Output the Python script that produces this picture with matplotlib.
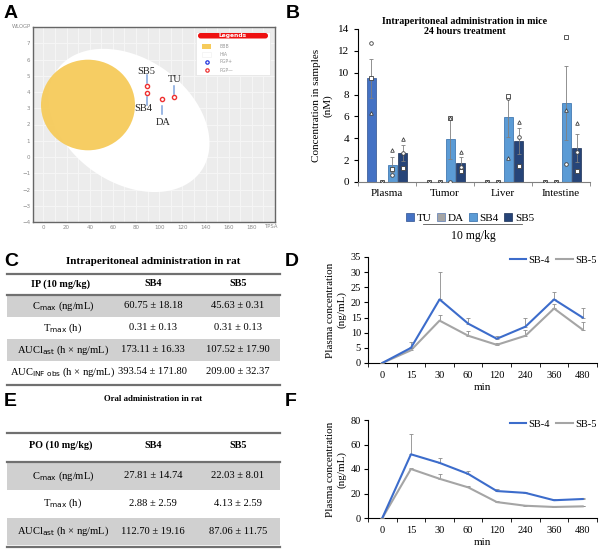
import matplotlib
matplotlib.use('Agg')
import matplotlib.pyplot as plt
import numpy as np
from matplotlib.patches import Ellipse, Polygon, Rectangle, FancyBboxPatch
from matplotlib.lines import Line2D

plt.rcParams['font.family'] = 'Liberation Serif'

# ---- panel A: boiled egg (TPSA vs WLOGP)
egg_names = ['SB5', 'SB4', 'DA', 'TU']
egg_tpsa = [89.6, 89.6, 102.3, 113.0]
egg_wlogp = [4.35, 3.95, 3.55, 3.72]

# ---- panel B: tissue concentrations (nM), 24 h after 10 mg/kg ip
tissues = ['Plasma', 'Tumor', 'Liver', 'Intestine']
compounds = ['TU', 'DA', 'SB4', 'SB5']
conc_mean = {
    'TU':  [9.5, 0, 0, 0],
    'DA':  [0, 0, 0, 0],
    'SB4': [1.6, 3.95, 5.95, 7.2],
    'SB5': [2.65, 1.75, 3.75, 3.1],
}
conc_sd = {
    'TU':  [1.8, 0, 0, 0],
    'DA':  [0, 0, 0, 0],
    'SB4': [0.7, 1.85, 1.85, 3.4],
    'SB5': [0.75, 0.5, 1.2, 1.25],
}
# individual animals (circle, square, triangle)
conc_pts = {
    'TU':  [[12.7, 9.5, 6.3], [0, 0, 0], [0, 0, 0], [0, 0, 0]],
    'DA':  [[0, 0, 0], [0, 0, 0], [0, 0, 0], [0, 0, 0]],
    'SB4': [[0.65, 1.2, 2.9], [0, 5.9, 5.9], [7.7, 7.9, 2.2], [1.65, 13.3, 6.6]],
    'SB5': [[2.65, 1.3, 3.95], [1.4, 1.0, 2.7], [4.15, 1.5, 5.5], [2.75, 1.0, 5.4]],
}

# ---- tables C and E
ip_rows = ['C$_{\\mathrm{max}}$ (ng/mL)', 'T$_{\\mathrm{max}}$ (h)',
           'AUCl$_{\\mathrm{ast}}$ (h × ng/mL)', 'AUC$_{\\mathrm{INF\\ obs}}$ (h × ng/mL)']
ip_sb4 = ['60.75 ± 18.18', '0.31 ± 0.13', '173.11 ± 16.33', '393.54 ± 171.80']
ip_sb5 = ['45.63 ± 0.31', '0.31 ± 0.13', '107.52 ± 17.90', '209.00 ± 32.37']
po_rows = ['C$_{\\mathrm{max}}$ (ng/mL)', 'T$_{\\mathrm{max}}$ (h)',
           'AUCl$_{\\mathrm{ast}}$ (h × ng/mL)']
po_sb4 = ['27.81 ± 14.74', '2.88 ± 2.59', '112.70 ± 19.16']
po_sb5 = ['22.03 ± 8.01', '4.13 ± 2.59', '87.06 ± 11.75']

# ---- panels D and F: plasma PK curves
times = ['0', '15', '30', '60', '120', '240', '360', '480']
ip_sb4_conc = [0, 5, 21, 13, 8, 12, 21, 15]
ip_sb4_err = [0, 2, 9, 1.7, 1, 2.7, 2.5, 3]
ip_sb5_conc = [0, 4.2, 14, 9, 6, 9, 18, 11]
ip_sb5_err = [0, 1, 2, 1.5, 0.5, 2, 1.5, 2.5]
po_sb4_conc = [0, 52, 45, 36, 22, 20.5, 14.5, 15.5]
po_sb4_err = [0, 16.5, 4, 2.5, 1.5, 0.5, 1, 0.5]
po_sb5_conc = [0, 40, 32, 25, 13, 10, 9, 9.5]
po_sb5_err = [0, 1, 4, 1.5, 1, 0.3, 0.3, 0.3]

W, H = 600, 551
fig = plt.figure(figsize=(6, 5.51), dpi=100)


def box(l, t, r, b):
    return [l / W, 1 - b / H, (r - l) / W, (b - t) / H]


# ================= A =================
axA = fig.add_axes(box(33, 27, 275, 222))
axA.set_facecolor('#ececec')
axA.set_xlim(-9, 200)
axA.set_ylim(-4, 8)
axA.set_axisbelow(True)
axA.set_xticks(np.arange(0, 181, 20))
axA.set_yticks(np.arange(-4, 8, 1))
axA.set_xticks(np.arange(-0, 200, 10), minor=True)
axA.grid(True, which='both', color='#f6f6f6', lw=0.7)
axA.tick_params(which='both', length=0, labelsize=4, labelcolor='#8a8a8a', pad=2)
for lab in axA.get_xticklabels() + axA.get_yticklabels():
    lab.set_fontfamily('DejaVu Sans')
for s in axA.spines.values():
    s.set_color('#666666')
    s.set_linewidth(1.0)

# white ellipse (HIA), tilted in screen space
pxx = 242 / 209.0
pxy = 195 / 12.0
t = np.linspace(0, 2 * np.pi, 200)
ang = np.deg2rad(-35)
a_px, b_px = 88, 62
ex = a_px * np.cos(t) * np.cos(ang) - b_px * np.sin(t) * np.sin(ang)
ey = a_px * np.cos(t) * np.sin(ang) + b_px * np.sin(t) * np.cos(ang)
white = Polygon(np.column_stack([74 + ex / pxx, 2.25 + ey / pxy]),
                closed=True, facecolor='white', edgecolor='none', zorder=1)
axA.add_patch(white)
yolk = Ellipse((38.5, 3.2), 2 * 47 / pxx, 2 * 45.3 / pxy,
               facecolor='#f6cb5b', edgecolor='none', alpha=0.95, zorder=2)
axA.add_patch(yolk)

axA.scatter(egg_tpsa, egg_wlogp, s=9, facecolor='white', edgecolor='#ee3030',
            linewidth=1.0, zorder=4)
# label offsets (points) and leader-line spans (pixels from the point)
text_off = {'SB5': (-1, 11), 'SB4': (-3, -11.5), 'DA': (1, -16.5), 'TU': (0, 12.5)}
line_px = {'SB5': (3, 11), 'SB4': (-4, -12), 'DA': (-7, -15), 'TU': (3, 11)}
for n, x, y in zip(egg_names, egg_tpsa, egg_wlogp):
    dx, dy = text_off[n]
    axA.annotate(n, xy=(x, y), xytext=(dx, dy), textcoords='offset points',
                 ha='center', va='center', fontsize=7.5, color='#222222', zorder=5)
    l0, l1 = line_px[n]
    axA.plot([x, x], [y + l0 / pxy, y + l1 / pxy], color='#7ea3dc', lw=1.1, zorder=3)

# ================= B =================
axB = fig.add_axes(box(358, 29, 590, 182))
xb = np.arange(len(tissues))
offsets = [-0.27, -0.09, 0.09, 0.27]
bar_colors = {'TU': '#4472c4', 'DA': '#a5a5a5', 'SB4': '#5b9bd5', 'SB5': '#264478'}
bar_edges = {'TU': '#2f528f', 'DA': '#5b7bb5', 'SB4': '#2f6aa8', 'SB5': '#1a2f55'}
markers = ['o', 's', '^']
handles = []
for c, off in zip(compounds, offsets):
    h = axB.bar(xb + off, conc_mean[c], width=0.16, color=bar_colors[c],
                edgecolor=bar_edges[c], linewidth=0.5, label=c, zorder=2)
    handles.append(h)
    sd = np.array(conc_sd[c])
    m = np.array(conc_mean[c])
    show = sd > 0
    axB.errorbar((xb + off)[show], m[show], yerr=sd[show], fmt='none',
                 ecolor='#7f7f7f', elinewidth=0.6, capsize=1.5, capthick=0.6, zorder=3)
    for i in range(len(tissues)):
        for k, v in enumerate(conc_pts[c][i]):
            axB.plot(xb[i] + off, v, marker=markers[k], ms=2.6, mfc='white',
                     mec='#404040', mew=0.6, ls='none', zorder=4)
axB.set_xlim(-0.5, 3.5)
axB.set_ylim(0, 14)
axB.set_yticks(np.arange(0, 15, 2))
axB.set_xticks(xb)
axB.set_xticklabels(tissues, fontsize=8)
axB.set_xticks(np.arange(-0.5, 3.6, 1), minor=True)
axB.tick_params(axis='x', which='major', length=0, pad=5)
axB.tick_params(axis='x', which='minor', length=3, direction='out', color='#7f7f7f')
axB.tick_params(axis='y', labelsize=8, length=3, direction='out')
axB.spines['top'].set_visible(False)
axB.spines['right'].set_visible(False)
axB.spines['bottom'].set_color('#7f7f7f')
axB.set_ylabel('Concentration in samples\n(nM)', fontsize=8, labelpad=4)
axB.legend(handles=handles, ncol=4, fontsize=8, frameon=False,
           handlelength=0.7, handleheight=0.7, handletextpad=0.25,
           columnspacing=0.5, loc='center', bbox_to_anchor=(470 / W, 1 - 218 / H),
           bbox_transform=fig.transFigure, borderpad=0)


# ================= D and F =================
def pk_axes(rect, sb4, sb4e, sb5, sb5e, ymax, ystep):
    ax = fig.add_axes(rect)
    x = np.arange(len(times))
    ax.errorbar(x, sb5, yerr=[np.zeros(len(x)), sb5e], color='#a5a5a5', lw=1.5,
                ecolor='#8c8c8c', elinewidth=0.6, capsize=1.5, capthick=0.6,
                label='SB-5', zorder=2)
    ax.errorbar(x, sb4, yerr=[np.zeros(len(x)), sb4e], color='#3c6ccb', lw=1.5,
                ecolor='#8c8c8c', elinewidth=0.6, capsize=1.5, capthick=0.6,
                label='SB-4', zorder=3)
    ax.set_xlim(-0.5, len(times) - 0.5)
    ax.set_ylim(0, ymax)
    ax.set_yticks(np.arange(0, ymax + 0.1, ystep))
    ax.set_xticks(x)
    ax.set_xticklabels(times)
    ax.set_xticks(np.arange(-0.5, len(times), 1), minor=True)
    ax.tick_params(axis='x', which='major', length=0, labelsize=7.5, pad=6)
    ax.tick_params(axis='x', which='minor', length=3, direction='out')
    ax.tick_params(axis='y', labelsize=7.5, length=3, direction='out', pad=2)
    ax.spines['top'].set_visible(False)
    ax.spines['right'].set_visible(False)
    ax.set_xlabel('min', fontsize=8, labelpad=2)
    ax.set_ylabel('Plasma concentration\n(ng/mL)', fontsize=8, labelpad=3)
    hs = [Line2D([], [], color='#3c6ccb', lw=1.5), Line2D([], [], color='#a5a5a5', lw=1.5)]
    ax.legend(hs, ['SB-4', 'SB-5'], ncol=2, fontsize=7.5, frameon=False,
              handlelength=1.6, handletextpad=0.2, columnspacing=0.6,
              loc='upper right', bbox_to_anchor=(1.02, 1.06), borderpad=0)
    return ax


pk_axes(box(368, 257, 597, 363), ip_sb4_conc, ip_sb4_err, ip_sb5_conc, ip_sb5_err, 35, 5)
pk_axes(box(368, 420, 597, 518), po_sb4_conc, po_sb4_err, po_sb5_conc, po_sb5_err, 80, 20)

# ================= overlay: letters, titles, tables =================
ov = fig.add_axes([0, 0, 1, 1], zorder=10)
ov.set_xlim(0, W)
ov.set_ylim(H, 0)
ov.axis('off')
ov.patch.set_alpha(0)

for letter, (lx, ly) in {'A': (4, 13), 'B': (286, 13), 'C': (4, 261),
                         'D': (285, 261), 'E': (4, 402), 'F': (285, 402)}.items():
    ov.text(lx, ly, letter, fontsize=14, fontweight='bold', family='Liberation Sans',
            ha='left', va='center')

# A extra labels and legend
ov.text(12, 27, 'WLOGP', fontsize=3.8, color='#8a8a8a', family='DejaVu Sans',
        ha='left', va='center')
ov.text(272, 226, 'TPSA', fontsize=3.8, color='#8a8a8a', family='DejaVu Sans',
        ha='center', va='center')
ov.add_patch(Rectangle((196, 32), 74, 43, facecolor='white', edgecolor='#e4e4e4', lw=0.5))
ov.add_patch(FancyBboxPatch((198, 33), 70, 5.5, boxstyle='round,pad=0,rounding_size=2.7',
                            facecolor='#ee1111', edgecolor='none'))
ov.text(233, 35.8, 'Legends', fontsize=4.3, color='white', fontweight='bold',
        family='DejaVu Sans', ha='center', va='center')
ov.add_patch(Rectangle((202, 44), 9, 5, facecolor='#f6cb5b', edgecolor='none'))
ov.add_patch(Rectangle((202, 51.5), 9, 5, facecolor='white', edgecolor='#eeeeee', lw=0.4))
ov.plot([206.5], [61.5], marker='o', ms=2.4, mfc='white', mec='#2233dd', mew=0.9)
ov.plot([206.5], [70], marker='o', ms=2.4, mfc='white', mec='#ee3030', mew=0.9)
for lab, yy in zip(['BBB', 'HIA', 'PGP+', 'PGP—'], [46.5, 54, 61.5, 70]):
    ov.text(219, yy, lab, fontsize=3.3, color='#999999', family='DejaVu Sans',
            ha='left', va='center')

# B title and legend decoration
ov.text(465, 21, 'Intraperitoneal administration in mice', fontsize=7.2,
        fontweight='bold', ha='center', va='center')
ov.text(465, 32, '24 hours treatment', fontsize=7.2, fontweight='bold',
        ha='center', va='center')
ov.plot([423, 522], [224, 224], color='#555555', lw=0.6)
ov.text(473, 236, '10 mg/kg', fontsize=8.5, ha='center', va='center')


def draw_table(title, title_fs, title_y, top, head_y, head_line, row_y, row_h, bottom,
               header, rows, c1, c2, grey_rows):
    ov.text(153, title_y, title, fontsize=title_fs, fontweight='bold', ha='center', va='center')
    for i in grey_rows:
        ov.add_patch(Rectangle((7, row_y[i] - row_h / 2), 273, row_h,
                               facecolor='#d0d0d0', edgecolor='none'))
    ov.plot([7, 280], [top, top], color='#707070', lw=1.6)
    ov.plot([7, 280], [head_line, head_line], color='#707070', lw=1.6)
    ov.plot([7, 280], [bottom, bottom], color='#707070', lw=1.6)
    for txt, xx in zip(header, [61, 153, 238]):
        ov.text(xx, head_y, txt, fontsize=7.3, fontweight='bold', ha='center', va='center')
    for y, r, a, b in zip(row_y, rows, c1, c2):
        ov.text(63, y, r, fontsize=7.6, ha='center', va='center')
        ov.text(153, y, a, fontsize=7.6, ha='center', va='center')
        ov.text(238, y, b, fontsize=7.6, ha='center', va='center')


draw_table('Intraperitoneal administration in rat', 8.0, 262, 274, 284, 295,
           [306, 328, 350, 372], 22, 385,
           ['IP (10 mg/kg)', 'SB4', 'SB5'], ip_rows, ip_sb4, ip_sb5, [0, 2])
draw_table('Oral administration in rat', 6.3, 399, 433, 445, 462,
           [476, 503, 531], 27, 547,
           ['PO (10 mg/kg)', 'SB4', 'SB5'], po_rows, po_sb4, po_sb5, [0, 2])

fig.savefig('out.png', dpi=100)
